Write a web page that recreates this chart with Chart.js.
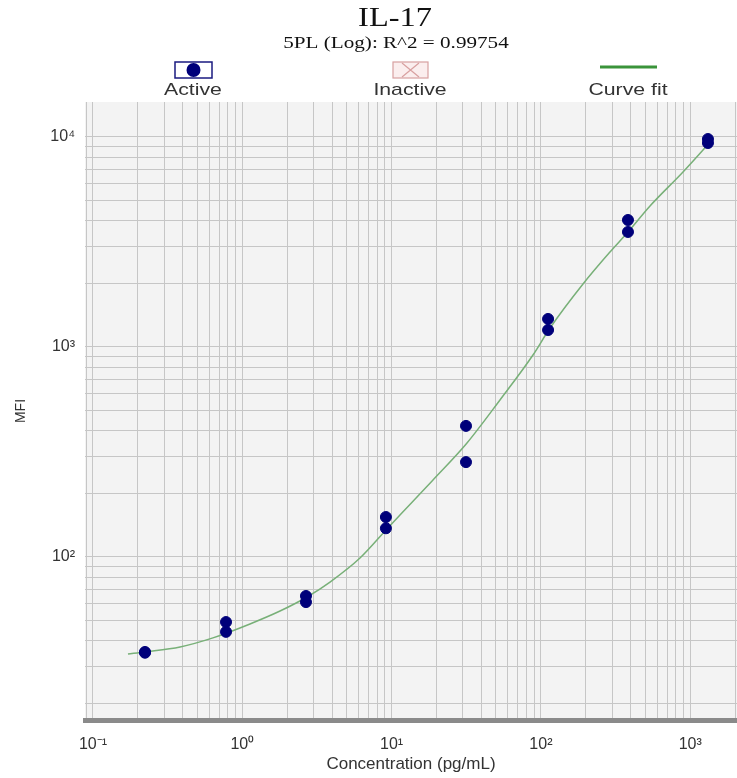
<!DOCTYPE html>
<html>
<head>
<meta charset="utf-8">
<script src="https://cdn.jsdelivr.net/npm/chart.js@4"></script>
<style>
  html, body { margin: 0; padding: 0; background: #fff; overflow: hidden; }
  #wrap { width: 737px; height: 778px; position: relative; }
</style>
</head>
<body>
<div id="wrap"><canvas id="chart"></canvas></div>
<script>
  // standards (pg/mL) and the two replicate readings
  const conc = [0.223, 0.778, 2.67, 9.16, 31.5, 111.7, 383, 1315];
  const mfiRep1 = [35.3, 49, 65.2, 155, 421, 1360, 4025, 9780];
  const mfiRep2 = [35.0, 44, 61, 137, 283, 1205, 3530, 9364];

  // curve fit
  const curveConc = [0.1715, 0.223, 0.383, 0.636, 1.126, 1.789, 2.713, 3.868, 6.143, 9.174,
    11.38, 18.94, 31.99, 53.2, 88.5, 115.1, 191.4, 290.3, 383.1, 538, 895, 1400];
  const curveMfi = [34.5, 35.3, 37.3, 41.2, 48.0, 55.3, 64.5, 76.0, 98.9, 134.5,
    158.5, 232.7, 349.1, 559.4, 916, 1231, 1995, 2834, 3528, 4693, 6813, 9676];

  const xTicks = [0.09, 0.1, 0.2, 0.3, 0.4, 0.5, 0.6, 0.7, 0.8, 0.9,
    1, 2, 3, 4, 5, 6, 7, 8, 9, 10, 20, 30, 40, 50, 60, 70, 80, 90,
    100, 200, 300, 400, 500, 600, 700, 800, 900, 1000, 2000];
  const yTicks = [20, 30, 40, 50, 60, 70, 80, 90, 100, 200, 300, 400, 500, 600, 700, 800, 900,
    1000, 2000, 3000, 4000, 5000, 6000, 7000, 8000, 9000, 10000];

  const titleText = "IL-17";
  const subtitleText = "5PL (Log): R^2 = 0.99754";
  const legendLabels = ["Active", "Inactive", "Curve fit"];

  const SANS = "'Liberation Sans', Arial, sans-serif";
  const SUP = { "-": "\u207B", "0": "\u2070", "1": "\u00B9", "2": "\u00B2", "3": "\u00B3", "4": "\u2074" };
  function powLabel(v) {
    const e = Math.log10(v);
    if (Math.abs(e - Math.round(e)) > 1e-9) return "";
    return "10" + String(Math.round(e)).split("").map((c) => SUP[c]).join("");
  }

  function toPoints(xs, ys) {
    return xs.map((x, i) => ({ x: x, y: ys[i] }));
  }

  // text in the reference is a bit wider than the fonts we have, stretch it
  function wideText(ctx, text, x, y, sx) {
    ctx.save();
    ctx.translate(x, y);
    ctx.scale(sx, 1);
    ctx.fillText(text, 0, 0);
    ctx.restore();
  }

  const plotBg = {
    id: "plotBg",
    beforeDraw(chart) {
      const { ctx, chartArea: a } = chart;
      ctx.save();
      ctx.fillStyle = "#f3f3f3";
      ctx.fillRect(a.left, a.top, a.right - a.left, a.bottom - a.top);
      ctx.restore();
    },
  };

  const header = {
    id: "header",
    afterDraw(chart) {
      const ctx = chart.ctx;
      ctx.save();
      ctx.textAlign = "center";
      ctx.textBaseline = "middle";
      ctx.fillStyle = "#111";
      ctx.font = "27px 'Liberation Serif', serif";
      wideText(ctx, titleText, 395, 19, 1.2);
      ctx.font = "16px 'Liberation Serif', serif";
      wideText(ctx, subtitleText, 396, 44, 1.32);

      // Active marker
      ctx.strokeStyle = "#1a1a80";
      ctx.lineWidth = 1.5;
      ctx.fillStyle = "#fff";
      ctx.fillRect(175, 62, 37, 16);
      ctx.strokeRect(175, 62, 37, 16);
      ctx.fillStyle = "#00007a";
      ctx.beginPath();
      ctx.arc(193.5, 70, 7, 0, Math.PI * 2);
      ctx.fill();

      // Inactive marker
      ctx.fillStyle = "#fbeeee";
      ctx.fillRect(393, 62, 35, 16);
      ctx.strokeStyle = "#d8a0a0";
      ctx.lineWidth = 1.2;
      ctx.strokeRect(393, 62, 35, 16);
      ctx.beginPath();
      ctx.moveTo(402, 63); ctx.lineTo(419, 77);
      ctx.moveTo(419, 63); ctx.lineTo(402, 77);
      ctx.stroke();

      // Curve fit marker
      ctx.strokeStyle = "#3a943a";
      ctx.lineWidth = 3;
      ctx.beginPath();
      ctx.moveTo(600, 67); ctx.lineTo(657, 67);
      ctx.stroke();

      ctx.fillStyle = "#333";
      ctx.font = "17px " + SANS;
      wideText(ctx, legendLabels[0], 193, 90, 1.25);
      wideText(ctx, legendLabels[1], 410, 90, 1.25);
      wideText(ctx, legendLabels[2], 628, 90, 1.25);
      ctx.restore();
    },
  };

  new Chart(document.getElementById("chart"), {
    data: {
      datasets: [
        {
          type: "line",
          label: legendLabels[2],
          data: toPoints(curveConc, curveMfi),
          borderColor: "#78b078",
          borderWidth: 1.5,
          pointRadius: 0,
          cubicInterpolationMode: "monotone",
          fill: false,
          order: 2,
        },
        {
          type: "scatter",
          label: legendLabels[0],
          data: toPoints(conc, mfiRep1).concat(toPoints(conc, mfiRep2)),
          backgroundColor: "#00007a",
          borderColor: "#00007a",
          pointRadius: 5.5,
          order: 1,
        },
      ],
    },
    options: {
      responsive: true,
      maintainAspectRatio: false,
      animation: false,
      layout: { autoPadding: false, padding: { top: 102, left: 0, right: 0, bottom: 0 } },
      plugins: {
        legend: { display: false },
        tooltip: { enabled: false },
      },
      scales: {
        x: {
          type: "logarithmic",
          min: 0.0884,
          max: 2058,
          afterBuildTicks(scale) { scale.ticks = xTicks.map((v) => ({ value: v })); },
          afterFit(scale) {
            scale.height = 58;
            scale.paddingLeft = 0;
            scale.paddingRight = 0;
          },
          grid: { color: "#c6c6c6", lineWidth: 1, drawTicks: false },
          border: { display: true, color: "#8a8a8a", width: 5 },
          ticks: {
            autoSkip: false,
            maxRotation: 0,
            padding: 15,
            color: "#333",
            font: { family: SANS, size: 16 },
            callback: (v) => powLabel(v),
          },
          title: {
            display: true,
            text: "Concentration (pg/mL)",
            color: "#333",
            font: { family: SANS, size: 17 },
            padding: { top: 0, bottom: 3 },
          },
        },
        y: {
          type: "logarithmic",
          min: 16.74,
          max: 14678,
          afterBuildTicks(scale) { scale.ticks = yTicks.map((v) => ({ value: v })); },
          afterFit(scale) { scale.width = 85; },
          grid: { color: "#c6c6c6", lineWidth: 1, drawTicks: false },
          border: { display: false },
          ticks: {
            autoSkip: false,
            padding: 10,
            color: "#333",
            font: { family: SANS, size: 16 },
            callback: (v) => powLabel(v),
          },
          title: {
            display: true,
            text: "MFI",
            color: "#333",
            font: { family: SANS, size: 14 },
            padding: { top: 13, bottom: 0 },
          },
        },
      },
    },
    plugins: [plotBg, header],
  });
</script>
</body>
</html>
